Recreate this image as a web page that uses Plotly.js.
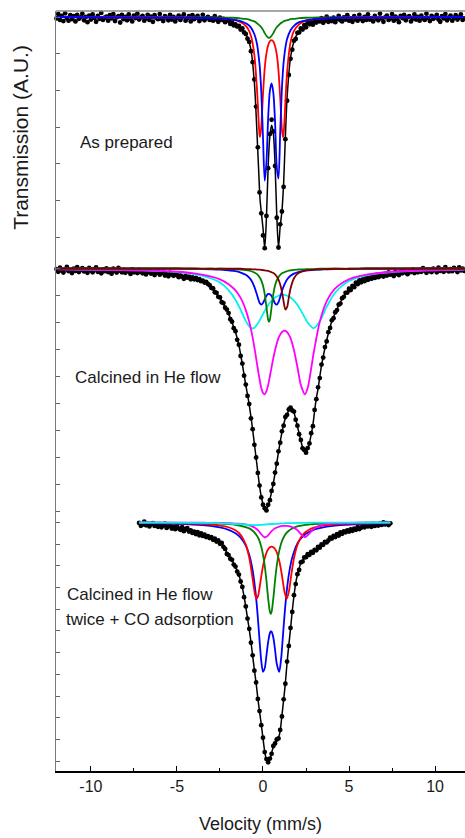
<!DOCTYPE html>
<html>
<head>
<meta charset="utf-8">
<script src="https://cdn.plot.ly/plotly-3.0.1.min.js"></script>
<style>html,body{margin:0;padding:0;background:#fff;}#chart{width:465px;height:838px;}</style>
</head>
<body>
<div id="chart"></div>
<script>
// ---------------- Panel 1: As prepared ----------------
const p1Start = -12.0, p1Step = 0.1;
const p1Data = [
99.96,100.08,99.92,100.03,99.89,100.10,99.97,99.90,100.05,99.94,
100.02,99.88,100.06,99.95,99.99,100.09,99.91,100.00,99.86,100.04,
99.93,100.07,99.97,99.87,100.03,99.95,100.11,99.92,99.98,100.01,
99.90,100.05,99.96,100.08,99.89,99.99,100.02,99.85,100.06,99.94,
100.00,99.91,100.07,99.95,99.88,100.04,99.97,100.09,99.93,99.99,
100.03,99.90,99.96,100.06,99.92,100.01,99.87,100.05,99.97,99.94,
100.08,99.95,99.89,100.02,99.98,99.91,100.06,99.93,100.00,99.88,
99.97,100.04,99.92,99.99,100.07,99.90,99.96,100.02,99.88,100.05,
99.94,99.98,100.03,99.89,99.95,100.06,99.91,99.97,100.00,99.92,
99.96,99.90,100.02,99.93,99.87,99.98,99.92,99.95,99.86,99.93,
99.89,99.81,99.86,99.77,99.80,99.74,99.76,99.66,99.69,99.58,
99.54,99.41,99.32,99.07,98.77,98.30,97.56,96.45,95.22,94.65,
94.05,93.70,94.58,95.88,96.81,97.20,96.88,95.94,94.53,93.72,
94.35,94.70,95.37,96.67,97.72,98.42,98.86,99.11,99.35,99.40,
99.57,99.58,99.69,99.66,99.78,99.72,99.85,99.80,99.87,99.79,
99.91,
99.85,99.93,99.88,99.97,99.84,99.90,100.01,99.87,99.95,99.89,
99.98,99.86,99.94,100.03,99.91,99.88,99.99,99.93,100.05,99.90,
99.96,99.87,100.02,99.94,99.90,100.06,99.95,99.89,100.00,99.92,
100.07,99.93,99.97,99.88,100.03,99.95,99.91,100.09,99.96,99.87,
99.99,100.04,99.92,99.96,100.08,99.90,100.01,99.94,99.86,100.03,
99.97,100.06,99.91,99.99,100.02,99.88,99.95,100.07,99.93,100.00,
99.90,100.04,99.96,99.92,100.09,99.97,99.89,100.03,99.95,99.99,
100.06,99.93,99.87,100.02,99.96,100.08,99.91,99.98,100.04,99.90,
99.97,100.05,99.93,99.99,100.07,99.92,99.96
];
const p1Vel = [-12,-4,-2.5,-1.8,-1.4,-1.1,-0.9,-0.7,-0.5,-0.35,-0.2,-0.17,-0.1,0,0.1,0.2,0.3,0.4,0.5,0.6,0.7,0.8,0.9,1.0,1.1,1.16,1.2,1.3,1.4,1.6,1.8,2.1,2.5,3.2,4.5,11.7];
const p1Fit = [100.0,99.96,99.91,99.84,99.74,99.60,99.44,99.11,98.20,96.85,95.27,95.02,94.69,94.25,93.70,94.53,95.93,96.77,97.05,96.83,96.00,94.60,93.72,94.30,94.70,95.13,95.47,96.72,97.80,98.89,99.33,99.62,99.78,99.89,99.95,100.0];
const p1Blue = [100.0,99.98,99.96,99.93,99.90,99.85,99.80,99.71,99.53,99.27,98.71,98.53,97.97,96.72,95.54,96.03,97.26,97.99,98.19,97.94,97.15,95.91,95.60,96.86,98.06,98.53,98.77,99.16,99.40,99.64,99.76,99.86,99.91,99.95,99.98,100.0];
const p1Red = [100.0,99.98,99.96,99.93,99.88,99.80,99.70,99.49,98.96,98.03,96.79,96.73,97.01,97.89,98.60,99.01,99.23,99.34,99.37,99.33,99.21,98.98,98.54,97.80,96.94,96.73,96.83,97.66,98.49,99.31,99.62,99.80,99.90,99.95,99.98,100.0];
const p1Green = [100.0,99.99,99.99,99.98,99.97,99.95,99.94,99.91,99.88,99.83,99.77,99.76,99.72,99.65,99.56,99.49,99.44,99.44,99.49,99.56,99.65,99.72,99.77,99.82,99.85,99.87,99.88,99.90,99.91,99.94,99.95,99.97,99.98,99.99,99.99,100.0];

// ---------------- Panel 2: Calcined in He flow ----------------
const p2Start = -12.0, p2Step = 0.1;
const p2Data = [
99.98,99.88,100.03,99.92,99.85,99.97,100.06,99.90,99.95,99.83,
99.99,99.91,100.05,99.87,99.94,100.01,99.89,99.96,99.84,100.02,
99.93,99.86,99.98,100.04,99.88,99.95,99.82,99.97,99.90,100.00,
99.87,99.94,99.81,99.99,99.90,99.85,100.02,99.92,99.86,99.95,
99.84,99.93,99.89,99.80,99.97,99.86,99.91,99.83,99.95,99.88,
99.82,99.90,99.78,99.86,99.93,99.81,99.87,99.76,99.84,99.90,
99.77,99.83,99.88,99.74,99.80,99.71,99.85,99.78,99.73,99.81,
99.76,99.68,99.74,99.70,99.62,99.72,99.66,99.70,99.60,99.67,
99.60,99.65,99.57,99.61,99.53,99.55,99.48,99.50,99.43,99.38,
99.28,99.26,99.12,99.10,98.95,98.93,98.75,98.72,98.55,98.48,
98.35,98.12,98.03,97.79,97.68,97.36,97.18,96.76,96.48,96.03,
95.70,95.28,94.98,94.45,94.05,93.47,93.00,92.43,91.96,91.52,
91.25,91.12,91.04,91.25,91.42,91.76,92.02,92.44,92.77,93.23,
93.55,93.97,94.18,94.50,94.58,94.78,94.85,94.74,94.70,94.40,
94.18,93.86,93.65,93.34,93.28,93.18,93.35,93.52,93.90,94.16,
94.76,95.16,95.60,95.94,96.44,96.70,97.09,97.30,97.64,97.80,
98.08,98.16,98.38,98.46,98.66,98.70,98.90,98.95,99.10,99.11,
99.25,99.20,99.36,99.31,99.48,99.42,99.56,99.49,99.60,99.53,
99.66,99.58,99.70,99.62,99.73,99.65,99.76,99.68,99.72,99.79,
99.70,99.81,99.74,99.86,99.77,99.83,99.72,99.88,99.80,99.76,
99.89,99.82,99.93,99.85,99.79,99.91,99.87,99.96,99.83,99.90,
99.86,99.95,99.88,100.01,99.92,99.84,99.97,99.90,99.87,99.99,
99.94,99.86,100.03,99.91,99.96,99.88,100.05,99.93,99.89,99.98,
99.90,100.02,99.95,99.87,100.04,99.93,99.99,99.91
];
const p2FitVel = [-12,-9,-7,-6,-5,-4.5,-4,-3.5,-3,-2.5,-2.2,-2,-1.8,-1.6,-1.4,-1.2,-1.0,-0.8,-0.6,-0.4,-0.2,-0.1,0,0.1,0.2,0.3,0.4,0.5,0.6,0.7,0.8,0.9,1.0,1.1,1.2,1.3,1.4,1.5,1.6,1.7,1.8,1.9,2.0,2.1,2.2,2.3,2.4,2.5,2.6,2.7,2.8,2.9,3.0,3.1,3.2,3.4,3.6,3.8,4.0,4.3,4.7,5.0,5.5,6.0,7.0,8.0,9.0,10.0,11.7];
const p2Fit = [99.94,99.90,99.85,99.80,99.73,99.69,99.63,99.52,99.30,98.90,98.58,98.32,98.00,97.65,97.15,96.45,95.68,94.95,94.02,92.98,91.94,91.55,91.28,91.10,91.08,91.22,91.45,91.73,92.05,92.41,92.80,93.20,93.58,93.93,94.22,94.45,94.62,94.73,94.80,94.80,94.67,94.43,94.15,93.90,93.62,93.38,93.25,93.22,93.32,93.55,93.85,94.20,94.73,95.20,95.55,96.40,97.05,97.60,98.05,98.50,98.98,99.22,99.50,99.62,99.75,99.85,99.90,99.92,99.95];
const p2Vel = [-12,-7,-5,-4,-3,-2.5,-2,-1.6,-1.3,-1.0,-0.8,-0.64,-0.5,-0.35,-0.2,-0.1,0,0.1,0.2,0.3,0.35,0.4,0.5,0.6,0.7,0.8,0.9,1.0,1.1,1.2,1.3,1.4,1.5,1.6,1.8,2.0,2.2,2.44,2.6,2.95,3.3,3.7,4.2,5.0,6.0,7.5,9.5,11.7];
const p2Magenta = [99.97,99.93,99.88,99.82,99.70,99.60,99.42,99.19,98.91,98.46,98.03,97.57,97.08,96.48,95.90,95.58,95.39,95.34,95.46,95.69,95.84,96.01,96.35,96.68,96.97,97.22,97.42,97.55,97.64,97.69,97.69,97.64,97.55,97.42,96.97,96.35,95.69,95.34,95.58,96.89,98.03,98.78,99.26,99.60,99.77,99.88,99.93,99.96];
const p2Cyan = [99.98,99.93,99.87,99.79,99.63,99.48,99.20,98.84,98.47,98.06,97.86,97.78,97.81,97.92,98.07,98.19,98.31,98.43,98.54,98.64,98.69,98.73,98.80,98.86,98.92,98.96,98.99,99.01,99.02,99.02,99.01,98.99,98.96,98.93,98.81,98.66,98.45,98.17,97.99,97.79,98.04,98.58,99.11,99.54,99.75,99.87,99.93,99.96];
const p2Blue = [100.0,99.99,99.99,99.98,99.97,99.96,99.93,99.90,99.85,99.77,99.66,99.52,99.32,99.03,98.73,98.66,98.72,98.86,98.99,99.06,99.06,99.05,98.98,98.85,98.71,98.66,98.75,98.94,99.16,99.34,99.48,99.59,99.67,99.73,99.81,99.86,99.89,99.92,99.93,99.95,99.96,99.97,99.98,99.98,99.99,99.99,100.0,100.0];
const p2Green = [100.0,100.0,100.0,99.99,99.99,99.99,99.98,99.97,99.96,99.94,99.92,99.89,99.85,99.79,99.68,99.56,99.37,99.05,98.58,98.10,98.02,98.10,98.58,99.05,99.37,99.56,99.68,99.76,99.82,99.85,99.88,99.90,99.92,99.93,99.95,99.96,99.97,99.97,99.98,99.98,99.99,99.99,99.99,99.99,100.0,100.0,100.0,100.0];
const p2Brown = [100.0,100.0,100.0,100.0,99.99,99.99,99.99,99.99,99.99,99.98,99.98,99.97,99.97,99.96,99.96,99.95,99.94,99.93,99.92,99.91,99.90,99.89,99.86,99.83,99.78,99.70,99.59,99.41,99.14,98.77,98.48,98.57,98.92,99.26,99.64,99.80,99.87,99.92,99.94,99.96,99.97,99.98,99.99,99.99,100.0,100.0,100.0,100.0];

// ---------------- Panel 3: Calcined twice + CO adsorption ----------------
const p3Start = -7.2, p3Step = 0.1;
const p3Data = [
99.98,99.85,99.90,100.04,99.87,99.95,99.82,99.93,99.97,99.84,
99.90,99.80,99.92,99.78,99.86,99.95,99.75,99.83,99.88,99.72,
99.80,99.69,99.85,99.73,99.66,99.79,99.60,99.70,99.74,99.58,
99.63,99.52,99.58,99.47,99.55,99.41,99.50,99.38,99.44,99.33,
99.37,99.28,99.32,99.20,99.25,99.12,99.17,99.02,99.06,98.88,
98.78,98.55,98.50,98.33,98.28,98.06,97.97,97.74,97.60,97.28,
97.03,96.56,96.13,95.57,95.10,94.46,93.88,93.17,92.63,91.87,
91.31,90.66,90.08,89.42,89.10,88.95,89.12,89.34,89.70,89.82,
90.00,90.05,90.44,91.06,91.85,92.57,93.59,94.31,95.14,95.88,
96.65,97.16,97.62,97.81,98.16,98.20,98.39,98.40,98.54,98.51,
98.64,98.60,98.74,98.72,98.87,98.84,98.99,98.97,99.11,99.08,
99.17,99.30,99.26,99.38,99.33,99.46,99.40,99.54,99.48,99.59,
99.55,99.63,99.58,99.68,99.62,99.72,99.66,99.78,99.70,99.76,
99.85,99.78,99.90,99.82,99.88,99.80,99.93,99.84,99.91,99.86,
99.95,99.89,100.00,99.91,99.97,99.88,99.96
];
const p3FitVel = [-7.2,-6,-5,-4.2,-3.6,-3.2,-2.8,-2.4,-2.1,-1.8,-1.5,-1.3,-1.1,-1.0,-0.9,-0.8,-0.7,-0.6,-0.5,-0.4,-0.3,-0.2,-0.1,0,0.1,0.2,0.3,0.4,0.5,0.6,0.7,0.8,0.9,1.0,1.1,1.2,1.3,1.4,1.5,1.6,1.7,1.8,1.9,2.0,2.2,2.5,2.9,3.4,3.9,4.5,5.4,6.4,7.4];
const p3Fit = [99.92,99.85,99.75,99.58,99.44,99.34,99.22,99.04,98.60,98.25,97.78,97.32,96.60,96.10,95.60,95.07,94.50,93.85,93.20,92.60,91.90,91.28,90.70,90.05,89.45,89.08,89.00,89.08,89.38,89.67,89.85,89.97,90.08,90.40,91.10,91.82,92.60,93.55,94.35,95.10,95.92,96.62,97.20,97.58,98.12,98.44,98.65,98.95,99.26,99.50,99.74,99.88,99.95];
const p3Vel = [-7.2,-5,-3.5,-2.5,-2.0,-1.6,-1.3,-1.0,-0.8,-0.6,-0.45,-0.37,-0.3,-0.2,-0.1,0,0.1,0.2,0.3,0.4,0.45,0.5,0.6,0.7,0.8,0.94,1.05,1.15,1.25,1.38,1.5,1.65,1.8,2.0,2.2,2.44,2.7,3.0,3.5,4.5,6.0,7.4];
const p3Blue = [99.97,99.94,99.88,99.77,99.66,99.50,99.30,98.93,98.51,97.79,96.91,96.27,95.62,94.57,93.61,93.12,93.28,93.87,94.50,94.90,94.98,94.97,94.70,94.14,93.49,93.12,93.69,94.67,95.72,96.84,97.59,98.23,98.64,99.03,99.26,99.45,99.57,99.68,99.78,99.88,99.94,99.96];
const p3Red = [99.98,99.96,99.93,99.86,99.78,99.64,99.43,98.98,98.38,97.39,96.64,96.49,96.58,96.99,97.52,97.99,98.35,98.60,98.77,98.86,98.88,98.89,98.86,98.78,98.62,98.25,97.81,97.31,96.81,96.49,96.80,97.62,98.35,98.96,99.31,99.54,99.68,99.77,99.86,99.93,99.96,99.98];
const p3Green = [99.99,99.98,99.97,99.95,99.92,99.89,99.85,99.79,99.73,99.62,99.50,99.41,99.32,99.14,98.88,98.52,98.01,97.32,96.50,95.88,95.78,95.88,96.50,97.32,98.01,98.68,99.02,99.23,99.39,99.53,99.62,99.70,99.76,99.82,99.85,99.89,99.91,99.93,99.95,99.97,99.99,99.99];
const p3Magenta = [100.0,99.99,99.99,99.98,99.97,99.95,99.94,99.91,99.87,99.81,99.75,99.70,99.65,99.56,99.46,99.37,99.32,99.34,99.41,99.51,99.56,99.60,99.67,99.73,99.77,99.81,99.83,99.84,99.84,99.84,99.83,99.80,99.75,99.65,99.47,99.32,99.50,99.74,99.90,99.97,99.99,99.99];
const p3Cyan = [100.0,99.99,99.98,99.97,99.95,99.93,99.92,99.90,99.89,99.88,99.88,99.88,99.88,99.89,99.89,99.90,99.90,99.91,99.92,99.92,99.93,99.93,99.93,99.94,99.94,99.95,99.96,99.96,99.96,99.97,99.97,99.97,99.97,99.98,99.98,99.98,99.99,99.99,99.99,99.99,100.0,100.0];

const panelLabels = ['As prepared', 'Calcined in He flow', 'Calcined in He flow', 'twice + CO adsorption'];
const xTickVals = [-10, -5, 0, 5, 10];
const xTickText = ['-10', '-5', '0', '5', '10'];
const xTitle = 'Velocity (mm/s)';
const yTitle = 'Transmission (A.U.)';

// ---------------- build ----------------
function channels(start, step, n) {
  const v = [];
  for (let i = 0; i < n; i++) v.push(Math.round((start + i * step) * 100) / 100);
  return v;
}
const COL = {red:'#ff0000', blue:'#0000ff', green:'#008000', magenta:'#ff00ff', cyan:'#00f0f0', brown:'#800000'};
function dots(x, y, ya) {
  return {x:x, y:y, yaxis:ya, xaxis:'x', type:'scatter', mode:'markers', cliponaxis:false,
          marker:{color:'#000', size:4.8}, hoverinfo:'skip'};
}
function curve(x, y, ya, color, w) {
  return {x:x, y:y, yaxis:ya, xaxis:'x', type:'scatter', mode:'lines',
          line:{color:color, width:w, shape:'spline', smoothing:0.8}, hoverinfo:'skip'};
}
const traces = [
  dots(channels(p1Start, p1Step, p1Data.length), p1Data, 'y'),
  curve(p1Vel, p1Fit, 'y', '#000', 1.5),
  curve(p1Vel, p1Green, 'y', COL.green, 1.8),
  curve(p1Vel, p1Red, 'y', COL.red, 1.8),
  curve(p1Vel, p1Blue, 'y', COL.blue, 1.8),

  dots(channels(p2Start, p2Step, p2Data.length), p2Data, 'y2'),
  curve(p2FitVel, p2Fit, 'y2', '#000', 1.5),
  curve(p2Vel, p2Cyan, 'y2', COL.cyan, 1.8),
  curve(p2Vel, p2Magenta, 'y2', COL.magenta, 1.8),
  curve(p2Vel, p2Blue, 'y2', COL.blue, 1.8),
  curve(p2Vel, p2Green, 'y2', COL.green, 1.8),
  curve(p2Vel, p2Brown, 'y2', COL.brown, 1.8),

  dots(channels(p3Start, p3Step, p3Data.length), p3Data, 'y3'),
  curve(p3FitVel, p3Fit, 'y3', '#000', 1.5),
  curve(p3Vel, p3Blue, 'y3', COL.blue, 1.8),
  curve(p3Vel, p3Red, 'y3', COL.red, 1.8),
  curve(p3Vel, p3Green, 'y3', COL.green, 1.8),
  curve(p3Vel, p3Magenta, 'y3', COL.magenta, 1.8),
  curve(p3Vel, p3Cyan, 'y3', COL.cyan, 1.8)
];

const yCommon = {anchor:'x', showline:true, linecolor:'#7a7a7a', linewidth:1.5, ticks:'inside',
  ticklen:4, tickwidth:1, tickcolor:'#666', dtick:1, tick0:0, showticklabels:false,
  showgrid:false, zeroline:false, fixedrange:true};
const FONT = 'Liberation Sans, Arial, Helvetica, sans-serif';
const layout = {
  width:465, height:838,
  margin:{l:56, r:0, t:11, b:67},
  paper_bgcolor:'#fff', plot_bgcolor:'#fff',
  showlegend:false,
  font:{family:FONT, color:'#1a1a1a', size:16},
  xaxis:{anchor:'y3', domain:[0,1], range:[-12.03, 11.74],
    tickmode:'array', tickvals:xTickVals, ticktext:xTickText,
    ticks:'inside', ticklen:5, tickwidth:1, tickcolor:'#000',
    minor:{ticks:'inside', ticklen:3, dtick:2.5, tick0:0, tickcolor:'#000'},
    showline:true, linecolor:'#000', linewidth:1.5, showgrid:false, zeroline:false,
    tickfont:{size:16, family:FONT, color:'#1a1a1a'},
    title:{text:xTitle, font:{size:18, family:FONT, color:'#1a1a1a'}, standoff:23}},
  yaxis:Object.assign({}, yCommon, {domain:[0.6671, 1], range:[93.270, 100.1635],
    title:{text:yTitle, font:{size:21, family:FONT, color:'#1a1a1a'}, standoff:20}}),
  yaxis2:Object.assign({}, yCommon, {domain:[0.3329, 0.6671], range:[90.759, 100.1667]}),
  yaxis3:Object.assign({}, yCommon, {domain:[0, 0.3329], range:[88.548, 100.207]}),
  shapes:[{type:'line', xref:'paper', yref:'paper', x0:0, x1:1, y0:1, y1:1,
    line:{color:'#8a8a8a', width:1.5}}],
  annotations:[
    {text:panelLabels[0], xref:'x', yref:'y', x:-10.76, y:96.59, xanchor:'left', yanchor:'middle', showarrow:false, font:{size:17, family:FONT, color:'#1a1a1a'}},
    {text:panelLabels[1], xref:'x', yref:'y2', x:-11.05, y:95.98, xanchor:'left', yanchor:'middle', showarrow:false, font:{size:17, family:FONT, color:'#1a1a1a'}},
    {text:panelLabels[2], xref:'x', yref:'y3', x:-11.5, y:96.66, xanchor:'left', yanchor:'middle', showarrow:false, font:{size:17, family:FONT, color:'#1a1a1a'}},
    {text:panelLabels[3], xref:'x', yref:'y3', x:-11.55, y:95.51, xanchor:'left', yanchor:'middle', showarrow:false, font:{size:17, family:FONT, color:'#1a1a1a'}}
  ]
};
Plotly.newPlot('chart', traces, layout, {displayModeBar:false, staticPlot:true});
</script>
</body>
</html>
